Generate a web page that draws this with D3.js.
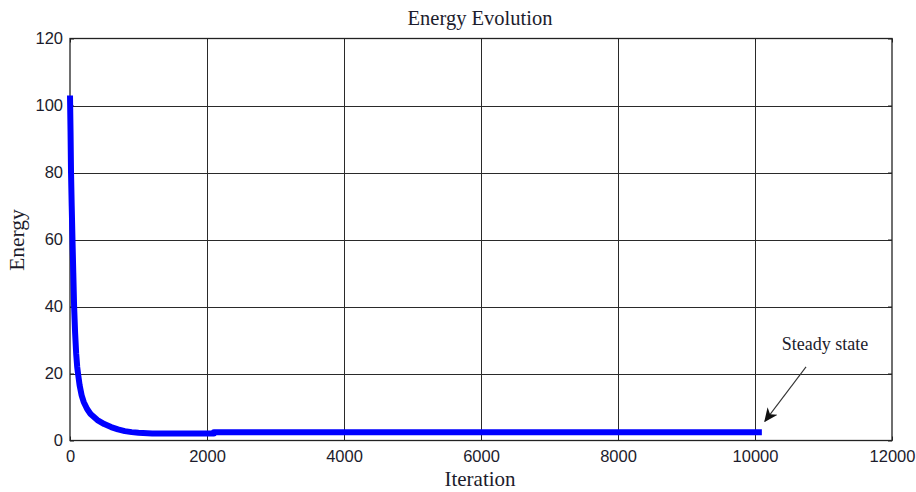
<!DOCTYPE html>
<html>
<head>
<meta charset="utf-8">
<script src="https://cdn.jsdelivr.net/npm/d3@7"></script>
<style>
  html, body { margin: 0; padding: 0; background: #fff; }
  svg { display: block; }
</style>
</head>
<body>
<svg id="chart" width="916" height="492"></svg>
<script>
// Energy recorded over the iterations of the solver
const iterations = [0, 8, 15, 25, 36, 48, 60, 75, 90, 105, 117, 140, 170, 200, 250, 300, 400, 500, 600, 700, 800, 900, 1000, 1200, 2100, 2100, 10100];
const energy     = [103, 92, 80, 70, 60, 50, 40, 32, 26, 22, 20, 16.5, 13.5, 11.5, 9.4, 7.9, 6.1, 4.9, 4.0, 3.3, 2.8, 2.5, 2.3, 2.1, 2.1, 2.5, 2.5];

const xTicks = [0, 2000, 4000, 6000, 8000, 10000, 12000];
const yTicks = [0, 20, 40, 60, 80, 100, 120];

const titleText = "Energy Evolution";
const xLabel = "Iteration";
const yLabel = "Energy";

// Annotation: label position and arrow (tail -> tip) in data units
const noteText = "Steady state";
const notePos = [11022, 27];
const arrowTail = [10745, 22];
const arrowTip = [10146, 5.8];

const W = 916, H = 492;
const m = { left: 70, right: 24, top: 38.5, bottom: 51.5 };

const svg = d3.select("#chart");

const x = d3.scaleLinear().domain([0, 12000]).range([m.left, W - m.right]);
const y = d3.scaleLinear().domain([0, 120]).range([H - m.bottom, m.top]);

const serif = "'Liberation Serif', 'Times New Roman', serif";
const sans = "'Liberation Sans', Arial, sans-serif";
const textColor = "#1c1c2c";

// grid lines
const grid = svg.append("g").attr("stroke", "#2a2a2a").attr("stroke-width", 1);
grid.selectAll("line.vx").data(xTicks.slice(1, -1)).join("line")
  .attr("x1", d => Math.round(x(d)) + 0.5).attr("x2", d => Math.round(x(d)) + 0.5)
  .attr("y1", y(120)).attr("y2", y(0));
grid.selectAll("line.hy").data(yTicks.slice(1, -1)).join("line")
  .attr("y1", d => Math.round(y(d)) + 0.5).attr("y2", d => Math.round(y(d)) + 0.5)
  .attr("x1", x(0)).attr("x2", x(12000));

// axes with small inward ticks
const xAxis = d3.axisBottom(x).tickValues(xTicks).tickSize(-4).tickPadding(10).tickFormat(d3.format("d"));
const yAxis = d3.axisLeft(y).tickValues(yTicks).tickSize(-4).tickPadding(7).tickFormat(d3.format("d"));
const xTop = d3.axisTop(x).tickValues(xTicks).tickSize(-4).tickFormat("");
const yRight = d3.axisRight(y).tickValues(yTicks).tickSize(-4).tickFormat("");

function styleAxis(g) {
  g.select(".domain").remove();
  g.selectAll(".tick line").attr("stroke", "#222");
  g.selectAll(".tick text").attr("fill", textColor)
    .attr("font-family", sans).attr("font-size", 16.5);
}

svg.append("g").attr("transform", `translate(0,${y(0)})`).call(xAxis).call(styleAxis);
svg.append("g").attr("transform", `translate(${x(0)},0)`).call(yAxis).call(styleAxis);
svg.append("g").attr("transform", `translate(0,${y(120)})`).call(xTop).call(styleAxis);
svg.append("g").attr("transform", `translate(${x(12000)},0)`).call(yRight).call(styleAxis);

// plot frame
svg.append("rect")
  .attr("x", x(0)).attr("y", y(120))
  .attr("width", x(12000) - x(0)).attr("height", y(0) - y(120))
  .attr("fill", "none").attr("stroke", "#222").attr("stroke-width", 1.3);

// energy curve
const pts = iterations.map((it, i) => [it, energy[i]]);
svg.append("path")
  .datum(pts)
  .attr("fill", "none")
  .attr("stroke", "#0000ff")
  .attr("stroke-width", 6)
  .attr("stroke-linejoin", "round")
  .attr("stroke-linecap", "butt")
  .attr("d", d3.line().x(d => x(d[0])).y(d => y(d[1])));

// title and axis labels
svg.append("text").attr("x", 480).attr("y", 25)
  .attr("text-anchor", "middle").attr("font-family", serif).attr("font-size", 20.5)
  .attr("fill", textColor).text(titleText);
svg.append("text").attr("x", 480).attr("y", 486)
  .attr("text-anchor", "middle").attr("font-family", serif).attr("font-size", 21)
  .attr("fill", textColor).text(xLabel);
svg.append("text")
  .attr("transform", "translate(24,240) rotate(-90)")
  .attr("text-anchor", "middle").attr("font-family", serif).attr("font-size", 21.5)
  .attr("fill", textColor).text(yLabel);

// annotation
svg.append("defs").append("marker")
  .attr("id", "arrowhead").attr("viewBox", "0 0 10 10")
  .attr("refX", 9).attr("refY", 5)
  .attr("markerWidth", 14).attr("markerHeight", 14)
  .attr("markerUnits", "userSpaceOnUse")
  .attr("orient", "auto")
  .append("path").attr("d", "M0,0.5 L10,5 L0,9.5 L3,5 Z").attr("fill", "#111");

svg.append("line")
  .attr("x1", x(arrowTail[0])).attr("y1", y(arrowTail[1]))
  .attr("x2", x(arrowTip[0])).attr("y2", y(arrowTip[1]))
  .attr("stroke", "#333").attr("stroke-width", 1.1)
  .attr("marker-end", "url(#arrowhead)");

svg.append("text")
  .attr("x", x(notePos[0])).attr("y", y(notePos[1]))
  .attr("text-anchor", "middle").attr("font-family", serif).attr("font-size", 18)
  .attr("fill", textColor).text(noteText);
</script>
</body>
</html>
